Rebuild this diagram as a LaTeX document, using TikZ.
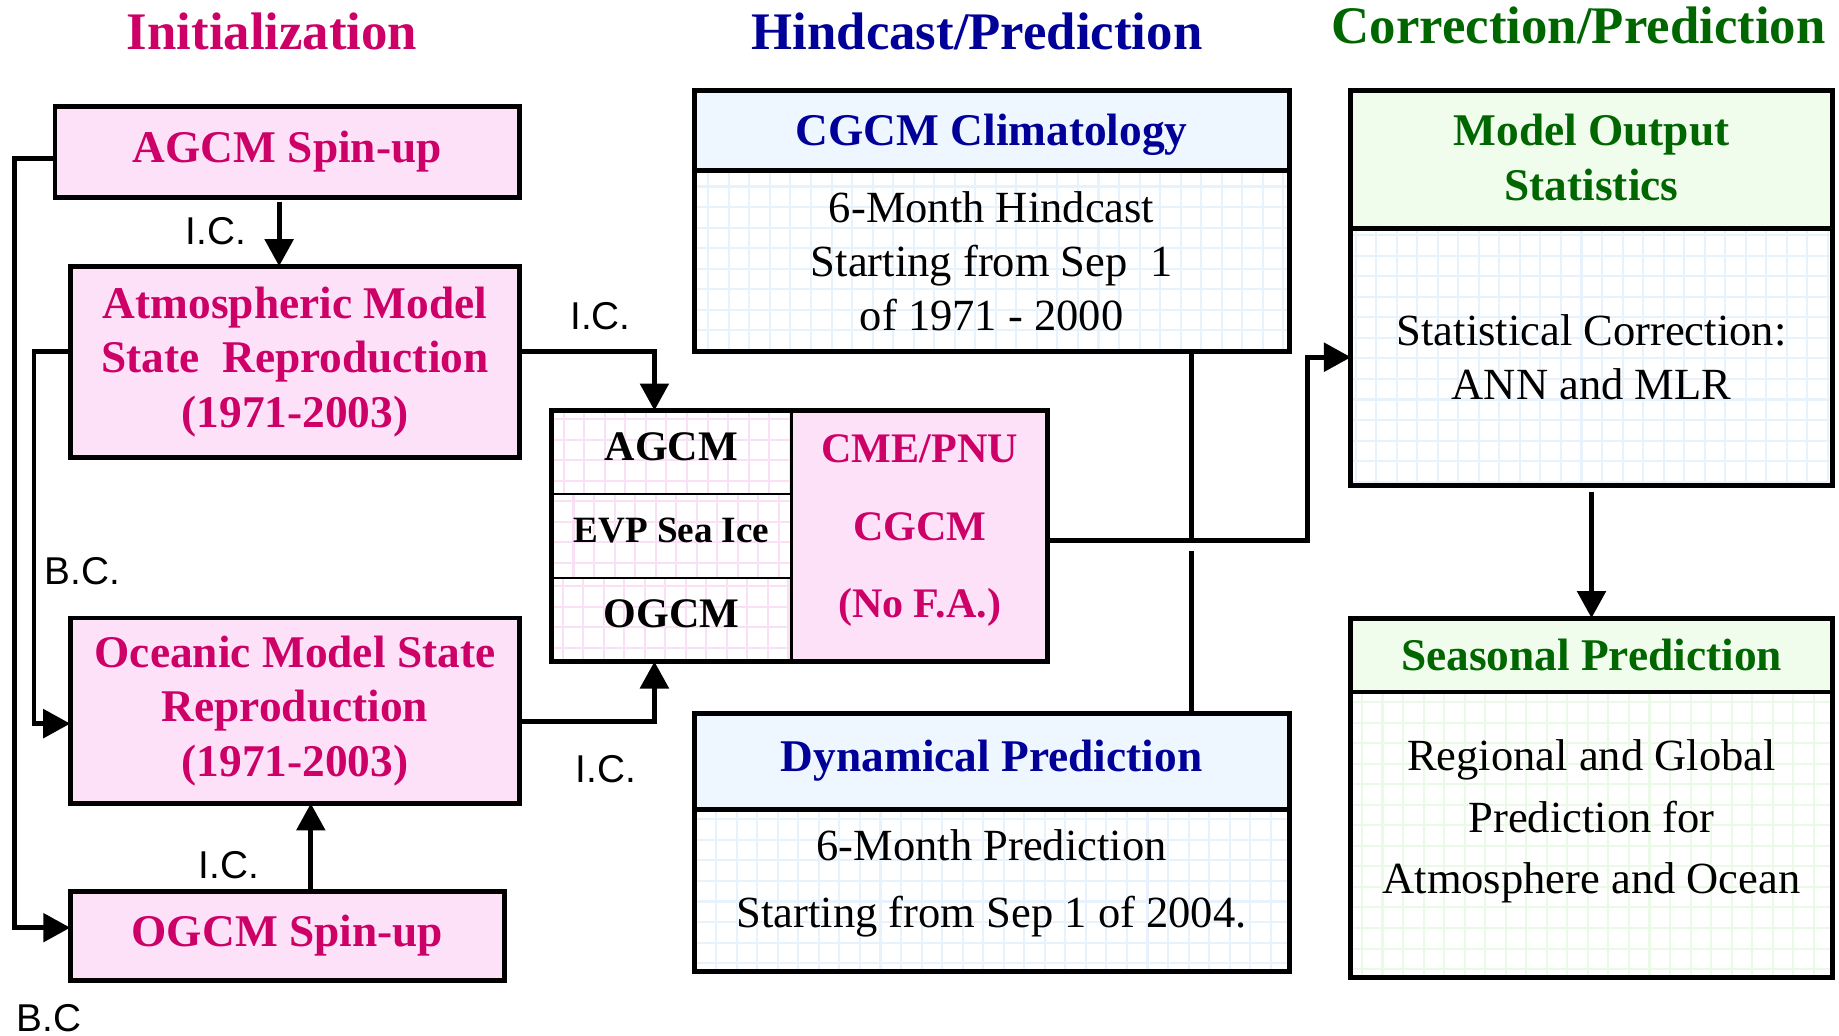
\documentclass[tikz,border=0pt]{standalone}
\usepackage{fontspec}
\setmainfont{Liberation Serif}
\setsansfont{Liberation Sans}
\usetikzlibrary{positioning,arrows.meta}

\definecolor{initred}{RGB}{204,0,102}
\definecolor{pinkfill}{RGB}{253,225,248}
\definecolor{pinkgrid}{RGB}{250,224,245}
\definecolor{hindblue}{RGB}{0,0,153}
\definecolor{bluefill}{RGB}{238,246,255}
\definecolor{bluegrid}{RGB}{232,242,252}
\definecolor{corrgreen}{RGB}{0,102,0}
\definecolor{greenfill}{RGB}{240,252,236}
\definecolor{greengrid}{RGB}{234,250,230}

% raise a stack of lines without changing its box
\newcommand\upby[2]{\raisebox{#1}[\height][\depth]{\begin{tabular}{@{}c@{}}#2\end{tabular}}}

\begin{document}
\begin{tikzpicture}[%
    x=0.01cm,
    y=-0.01cm,
    line width=1.2pt,
    >={Triangle[length=0.23cm,width=0.24cm]},
    heading/.style={%
      inner sep=0pt,
      font=\fontsize{12.8}{15}\selectfont\bfseries
    },
    initbox/.style={%
      rectangle,
      draw,
      fill=pinkfill,
      text=initred,
      align=center,
      inner sep=0pt,
      outer sep=0pt,
      font=\fontsize{11}{13.2}\selectfont\bfseries
    },
    gridded/.style={%
      path picture={\draw[#1, line width=0.5pt, step=0.175cm]
        (path picture bounding box.south west) grid (path picture bounding box.north east);}
    },
    cell/.style={%
      rectangle,
      draw,
      line width=0.6pt,
      inner sep=0pt,
      outer sep=0pt,
      minimum width=2.05cm,
      minimum height=0.713cm,
      text depth=3pt,
      gridded=pinkgrid,
      font=\fontsize{10.2}{12}\selectfont\bfseries
    },
    headbox/.style={%
      rectangle,
      draw,
      align=center,
      inner sep=0pt,
      outer sep=0pt,
      font=\fontsize{11}{13.2}\selectfont\bfseries
    },
    bodybox/.style={%
      rectangle,
      draw,
      align=center,
      inner sep=0pt,
      outer sep=0pt,
      font=\fontsize{10.8}{13.1}\selectfont
    },
    tag/.style={%
      inner sep=0pt,
      font=\sffamily\fontsize{9.4}{11}\selectfont
    }
  ]
    \useasboundingbox (0,0) rectangle (1568,883);

    % column titles
    \node[heading, text=initred] (tinit) at (232,27) {Initialization};
    \node[heading, text=hindblue] (thind) at (833,27) {Hindcast/Prediction};
    \node[heading, text=corrgreen] (tcorr) at (1346,22) {Correction/Prediction};

    % initialization
    \node[initbox, minimum width=3.96cm, minimum height=0.77cm] (agcmspin) at (245,129.5) {AGCM Spin-up};
    \node[initbox, minimum width=3.83cm, minimum height=1.63cm] (atmos) at (251.5,308.5) {Atmospheric Model\\State\ \ Reproduction\\(1971-2003)};
    \node[initbox, minimum width=3.83cm, minimum height=1.58cm] (ocean) at (251.5,606) {Oceanic Model State\\Reproduction\\(1971-2003)};
    \node[initbox, minimum width=3.70cm, minimum height=0.76cm] (ogcmspin) at (245,798) {OGCM Spin-up};

    % coupled model
    \node[cell] (cagcm) at (572.5,385.7) {AGCM};
    \node[cell, below=0pt of cagcm, font=\fontsize{9}{11}\selectfont\bfseries] (cevp) {EVP Sea Ice};
    \node[cell, below=0pt of cevp] (cogcm) {OGCM};
    \node[initbox, line width=0.6pt, anchor=north west, minimum width=2.18cm, minimum height=2.14cm,
      font=\fontsize{10.2}{18.8}\selectfont\bfseries] (cgcm) at (cagcm.north east)
      {\upby{2.8pt}{CME/PNU\\CGCM\\(No F.A.)}};
    \draw (cagcm.north west) rectangle (cgcm.south east);

    % hindcast / prediction
    \node[headbox, fill=bluefill, text=hindblue, minimum width=5.07cm, minimum height=0.68cm] (clim) at (845.5,111) {\upby{-1.1pt}{CGCM Climatology}};
    \node[bodybox, gridded=bluegrid, minimum width=5.07cm, minimum height=1.55cm, below=0pt of clim] (climbody) {6-Month Hindcast\\Starting from Sep\ \ 1\\of 1971 - 2000};
    \node[headbox, fill=bluefill, text=hindblue, minimum width=5.07cm, minimum height=0.82cm] (dyn) at (845.5,649) {Dynamical Prediction};
    \node[bodybox, gridded=bluegrid, minimum width=5.07cm, minimum height=1.38cm, below=0pt of dyn,
      font=\fontsize{10.8}{16.2}\selectfont] (dynbody) {\upby{2.4pt}{6-Month Prediction\\Starting from Sep 1 of 2004.}};

    % correction / prediction
    \node[headbox, fill=greenfill, text=corrgreen, minimum width=4.10cm, minimum height=1.18cm] (mos) at (1357,136) {\upby{-0.6pt}{Model Output\\Statistics}};
    \node[bodybox, gridded=bluegrid, minimum width=4.10cm, minimum height=2.19cm, below=0pt of mos] (mosbody) {Statistical Correction:\\ANN and MLR};
    \node[headbox, fill=greenfill, text=corrgreen, minimum width=4.10cm, minimum height=0.63cm] (seas) at (1357,558.5) {Seasonal Prediction};
    \node[bodybox, gridded=greengrid, minimum width=4.10cm, minimum height=2.43cm, below=0pt of seas,
      font=\fontsize{10.8}{15}\selectfont] (seasbody) {\upby{3.6pt}{Regional and Global\\Prediction for\\Atmosphere and Ocean}};

    % turning points
    \coordinate (bcout) at (12,868);
    \coordinate (bcin) at (29,487);
    \coordinate (junc) at (1115,380);
    \coordinate (hop) at (1016,461);

    % connectors
    \draw[->, shorten <=0.04cm] ([xshift=-0.07cm]agcmspin.south) -- node[tag, left=0.26cm] {I.C.} ([xshift=-0.07cm]agcmspin.south |- atmos.north);
    \draw[->] ([yshift=-0.055cm]agcmspin.west) -| ([yshift=0.07cm]bcout |- ogcmspin.west) -- ([yshift=0.07cm]ogcmspin.west);
    \node[tag, anchor=west] (bcouttag) at (bcout) {B.C};
    \draw[->] ([yshift=0.085cm]atmos.west) -| (bcin) |- ([yshift=-0.11cm]ocean.west);
    \node[tag, right=0.07cm of bcin] (bcintag) {B.C.};
    \draw[->] ([xshift=0.2cm]ogcmspin.north) -- node[tag, pos=0.3, left=0.42cm] {I.C.} ([xshift=0.2cm]ogcmspin.north |- ocean.south);
    \draw[->] ([yshift=0.085cm]atmos.east) -| node[tag, pos=0.3, above=0.17cm] {I.C.} ([xshift=-0.145cm]cagcm.north);
    \draw[->] ([yshift=-0.09cm]ocean.east) -| node[tag, pos=0.32, below=0.27cm] {I.C.} ([xshift=-0.145cm]cogcm.south);
    \draw[->] ([yshift=-0.04cm]cgcm.east) -| (junc) |- (mosbody.west);
    \draw (hop |- climbody.south) -- (hop);
    \draw ([yshift=-0.09cm]hop) -- (hop |- dyn.north);
    \path (mosbody) edge[->, shorten <=0.05cm] (seas);
\end{tikzpicture}
\end{document}
